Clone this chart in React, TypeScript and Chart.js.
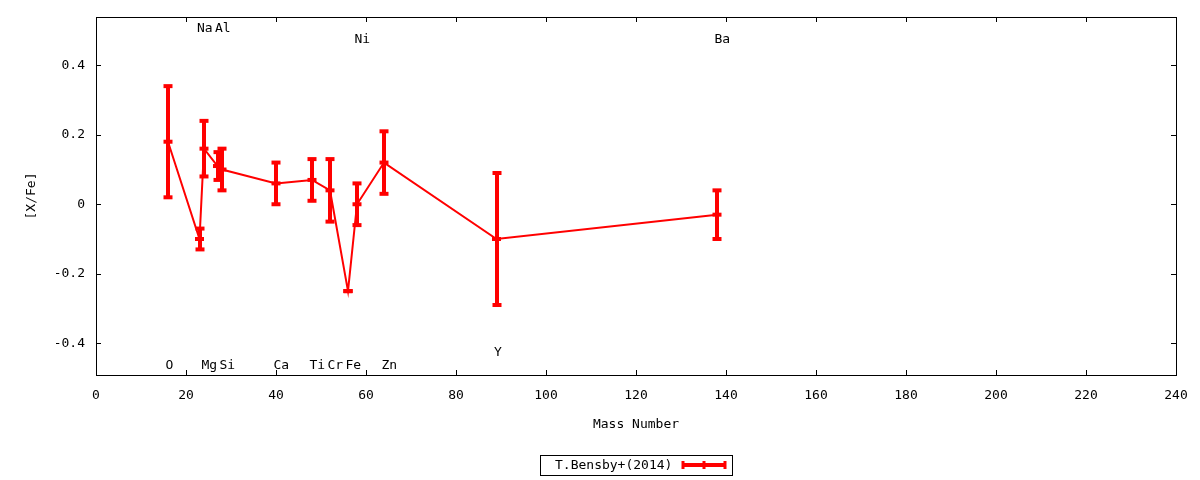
import React, { useEffect, useRef } from "react";
import { Chart, registerables } from "chart.js";

Chart.register(...registerables);

// ---- data ----
const elements = ["O", "Na", "Mg", "Al", "Si", "Ca", "Ti", "Cr", "Fe", "Ni", "Zn", "Y", "Ba"];
const massNumbers = [16, 23, 24, 27, 28, 40, 48, 52, 56, 58, 64, 89, 138];
const xFeValues = [0.18, -0.1, 0.16, 0.11, 0.1, 0.06, 0.07, 0.04, -0.25, 0.0, 0.12, -0.1, -0.03];
const xFeErrors = [0.16, 0.03, 0.08, 0.04, 0.06, 0.06, 0.06, 0.09, 0.0, 0.06, 0.09, 0.19, 0.07];
const labelYValues = [-0.46, 0.51, -0.46, 0.51, -0.46, -0.46, -0.46, -0.46, -0.46, 0.48, -0.46, -0.42, 0.48];
const seriesLabel = "T.Bensby+(2014)";
const xAxisTitle = "Mass Number";
const yAxisTitle = "[X/Fe]";
const xRange = [0, 240];
const yRange = [-0.4915, 0.539];
const xTickStep = 20;
const yTickStep = 0.2;

const RED = "#ff0000";
const FONT = "'DejaVu Sans Mono', 'Liberation Mono', monospace";
const FONT_SIZE = 13;

const decorPlugin = {
  id: "gnuplotDecor",
  afterDatasetsDraw(chart: any) {
    const { ctx, scales } = chart;
    const x = scales.x;
    const y = scales.y;
    ctx.save();
    ctx.strokeStyle = RED;
    ctx.lineCap = "butt";
    massNumbers.forEach((m, i) => {
      const px = Math.round(x.getPixelForValue(m));
      const yTop = y.getPixelForValue(xFeValues[i] + xFeErrors[i]);
      const yBot = y.getPixelForValue(xFeValues[i] - xFeErrors[i]);
      ctx.lineWidth = 4;
      ctx.beginPath();
      ctx.moveTo(px, yTop);
      ctx.lineTo(px, yBot);
      ctx.stroke();
      [yTop, yBot].forEach((cy) => {
        ctx.beginPath();
        ctx.moveTo(px - 4.5, cy);
        ctx.lineTo(px + 4.5, cy);
        ctx.stroke();
      });
    });
    ctx.restore();
  },
  afterDraw(chart: any) {
    const { ctx, chartArea: a, scales } = chart;
    const x = scales.x;
    const y = scales.y;
    ctx.save();
    // border
    ctx.strokeStyle = "#000";
    ctx.lineWidth = 1;
    ctx.strokeRect(a.left + 0.5, a.top + 0.5, a.right - a.left, a.bottom - a.top);
    // inner tick marks on all sides
    const tl = 5;
    ctx.beginPath();
    x.ticks.forEach((t: any) => {
      const px = Math.round(x.getPixelForValue(t.value)) + 0.5;
      ctx.moveTo(px, a.bottom);
      ctx.lineTo(px, a.bottom - tl);
      ctx.moveTo(px, a.top);
      ctx.lineTo(px, a.top + tl);
    });
    y.ticks.forEach((t: any) => {
      const py = Math.round(y.getPixelForValue(t.value)) + 0.5;
      ctx.moveTo(a.left, py);
      ctx.lineTo(a.left + tl, py);
      ctx.moveTo(a.right, py);
      ctx.lineTo(a.right - tl, py);
    });
    ctx.stroke();
    // element labels
    ctx.fillStyle = "#000";
    ctx.font = `${FONT_SIZE}px ${FONT}`;
    ctx.textAlign = "left";
    ctx.textBaseline = "middle";
    elements.forEach((el, i) => {
      const px = x.getPixelForValue(massNumbers[i]) - 2.5;
      const py = y.getPixelForValue(labelYValues[i]) + 2;
      ctx.fillText(el, px, py);
    });
    // legend
    const cx = (a.left + a.right) / 2;
    const boxW = 192;
    const boxH = 20;
    const boxTop = 455;
    ctx.strokeRect(Math.round(cx - boxW / 2) + 0.5, boxTop + 0.5, boxW, boxH);
    const midY = boxTop + boxH / 2;
    ctx.fillText(seriesLabel, cx - 81, midY + 1);
    ctx.strokeStyle = RED;
    ctx.lineWidth = 4;
    ctx.beginPath();
    ctx.moveTo(cx + 46, midY);
    ctx.lineTo(cx + 90, midY);
    ctx.stroke();
    ctx.lineWidth = 3;
    [cx + 47, cx + 68, cx + 89].forEach((sx) => {
      ctx.beginPath();
      ctx.moveTo(sx, midY - 4);
      ctx.lineTo(sx, midY + 4);
      ctx.stroke();
    });
    ctx.restore();
  },
};

export default function App() {
  const canvasRef = useRef<HTMLCanvasElement | null>(null);

  useEffect(() => {
    document.body.style.margin = "0";
    const canvas = canvasRef.current;
    if (!canvas) return;
    Chart.defaults.color = "#000";
    const chart = new Chart(canvas, {
      type: "scatter",
      data: {
        datasets: [
          {
            label: seriesLabel,
            data: massNumbers.map((m, i) => ({ x: m, y: xFeValues[i] })),
            showLine: true,
            borderColor: RED,
            backgroundColor: RED,
            borderWidth: 2,
            pointStyle: "line",
            pointRadius: 4.5,
            pointBorderWidth: 4,
            pointBorderColor: RED,
            tension: 0,
          } as any,
        ],
      },
      options: {
        animation: false,
        responsive: false,
        devicePixelRatio: 1,
        layout: { padding: { top: 17, right: 24, left: 0, bottom: 0 } },
        plugins: {
          legend: { display: false },
          tooltip: { enabled: false },
        },
        scales: {
          x: {
            type: "linear",
            min: xRange[0],
            max: xRange[1],
            grid: { display: false, drawTicks: false },
            border: { display: false },
            ticks: {
              stepSize: xTickStep,
              padding: 13,
              font: { family: FONT, size: FONT_SIZE },
              color: "#000",
              maxRotation: 0,
              autoSkip: false,
              includeBounds: false,
            },
            title: {
              display: true,
              text: xAxisTitle,
              font: { family: FONT, size: FONT_SIZE },
              color: "#000",
              padding: { top: 0, bottom: 48 },
            },
            afterFit: (s: any) => {
              s.height = 105;
              s.paddingLeft = 0;
              s.paddingRight = 0;
            },
          },
          y: {
            type: "linear",
            min: yRange[0],
            max: yRange[1],
            grid: { display: false, drawTicks: false },
            border: { display: false },
            ticks: {
              stepSize: yTickStep,
              padding: 11,
              font: { family: FONT, size: FONT_SIZE },
              color: "#000",
              includeBounds: false,
              callback: (v: any) => String(Math.round(Number(v) * 10) / 10),
            },
            title: {
              display: true,
              text: yAxisTitle,
              font: { family: FONT, size: FONT_SIZE },
              color: "#000",
              padding: { top: 24, bottom: 0 },
            },
            afterFit: (s: any) => {
              s.width = 96;
              s.paddingTop = 0;
              s.paddingBottom = 0;
            },
          },
        },
      } as any,
      plugins: [decorPlugin],
    });
    return () => chart.destroy();
  }, []);

  return (
    <div style={{ width: 1200, height: 480, background: "#fff" }}>
      <canvas ref={canvasRef} width={1200} height={480} />
    </div>
  );
}
